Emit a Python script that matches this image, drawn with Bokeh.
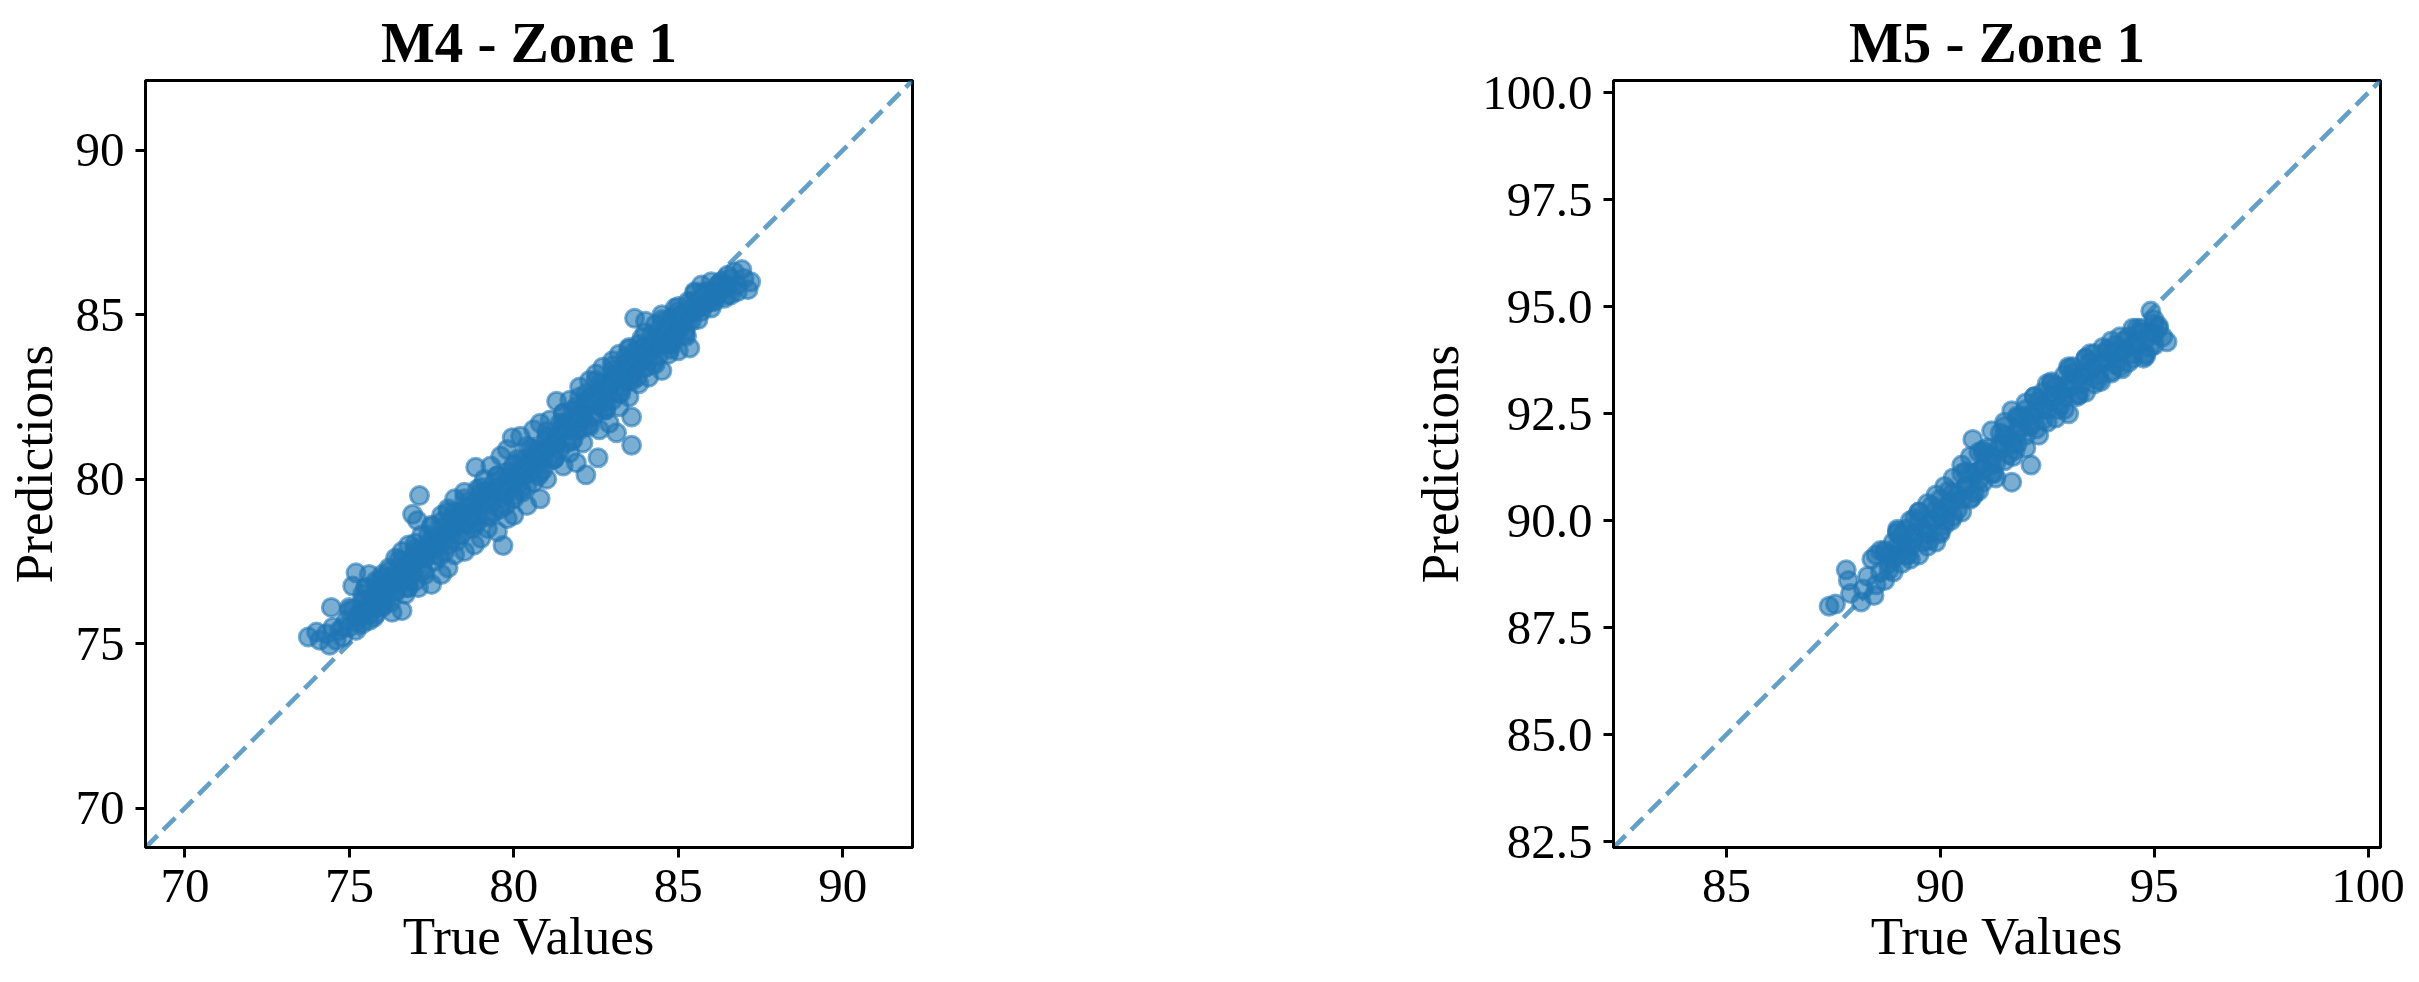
from bokeh.plotting import figure
from bokeh.layouts import row
from bokeh.models import Range1d, FixedTicker, PrintfTickFormatter
from bokeh.embed import file_html
from bokeh.resources import INLINE

FONT = "Liberation Serif"
BLUE = "#1f77b4"

# ---------------- M4 - Zone 1 ----------------
m4_title = "M4 - Zone 1"
m4_limits = [68.8, 92.12]
m4_xticks = [70, 75, 80, 85, 90]
m4_yticks = [70, 75, 80, 85, 90]
m4_true = [
    73.75, 74.0, 74.1, 74.3, 74.4, 74.5, 74.45, 74.6, 74.7,
    74.8, 74.9, 75.0, 75.0, 75.1, 75.2, 75.2, 75.3, 75.4, 75.4,
    75.5, 75.5, 75.6, 75.6, 75.7, 75.8, 75.8, 75.9, 76.0, 76.0, 76.0,
    76.1, 76.2, 76.2, 76.3, 76.4, 76.4, 76.5, 76.6, 76.6, 76.7, 76.7, 76.8, 76.8, 76.9, 76.92, 77.0, 77.0, 77.07, 77.13,
    77.1, 77.2, 77.2, 77.3, 77.4, 77.5, 77.5, 77.6, 77.7, 77.8, 77.8, 77.9, 78.0, 78.0, 78.0,
    78.1, 78.2, 78.2, 78.3, 78.4, 78.5, 78.5, 78.6, 78.7, 78.84, 78.8, 78.9, 78.9, 79.0, 79.0,
    79.1, 79.2, 79.2, 79.3, 79.4, 79.5, 79.5, 79.6, 79.67, 79.7, 79.8, 79.8, 79.9, 79.95, 80.0, 80.0,
    80.1, 80.2, 80.2, 80.3, 80.4, 80.4, 80.5, 80.6, 80.6, 80.7, 80.8, 80.8, 80.9, 81.0, 81.0,
    81.1, 81.2, 81.3, 81.3, 81.4, 81.5, 81.5, 81.6, 81.7, 81.7, 81.8, 81.9, 81.9, 82.0, 82.0,
    82.1, 82.19, 82.2, 82.3, 82.3, 82.4, 82.5, 82.56, 82.6, 82.6, 82.7, 82.8, 82.9, 82.9, 83.0, 83.0,
    83.12, 83.1, 83.2, 83.2, 83.3, 83.4, 83.5, 83.5, 83.58, 83.58, 83.6, 83.67, 83.7, 83.8, 83.9, 84.0, 84.0,
    84.1, 84.2, 84.3, 84.3, 84.4, 84.5, 84.5, 84.6, 84.7, 84.8, 84.8, 84.9, 85.0, 85.0,
    85.1, 85.2, 85.3, 85.35, 85.4, 85.5, 85.5, 85.6, 85.7, 85.8, 85.9, 86.0, 86.0,
    86.2, 86.3, 86.4, 86.5, 86.6, 86.7, 86.8, 86.93, 87.0, 87.12, 87.2,
    74.8, 75.3, 75.7, 76.1, 76.5, 76.9, 77.3, 77.7, 78.1, 78.5, 78.9, 79.3, 79.7, 80.1, 80.5,
    80.9, 81.3, 81.7, 82.1, 82.5, 82.9, 83.3, 83.7, 84.1, 84.5, 84.9, 85.3, 85.7, 86.1, 86.5,
    75.9, 76.3, 76.7, 77.1, 77.5, 77.9, 78.3, 78.7, 79.1, 79.5, 79.9, 80.3,
    80.7, 81.1, 81.5, 81.9, 82.3, 82.7, 83.1, 83.5, 83.9, 84.3, 84.7, 85.1,
    75.0, 75.4, 75.8, 76.2, 76.6, 77.0, 77.4, 77.8, 78.2, 78.6, 79.0, 79.4, 79.8, 80.2, 80.6,
    81.0, 81.4, 81.8, 82.2, 82.6, 83.0, 83.4, 83.8, 84.2, 84.6, 85.0, 85.4, 85.8, 86.2, 86.6,
    75.2, 75.6, 76.0, 76.4, 76.8, 77.2, 77.6, 78.0, 78.4, 78.8, 79.2, 79.6, 80.0, 80.4, 80.8,
    81.2, 81.6, 82.0, 82.4, 82.8, 83.2, 83.6, 84.0, 84.4, 84.8, 85.2, 85.6, 86.0, 86.4, 86.8,
    75.6, 76.0, 76.4, 76.8, 77.2, 77.6, 78.0, 78.4, 78.8, 79.2, 79.6, 80.0, 80.4, 80.8,
    81.2, 81.6, 82.0, 82.4, 82.8, 83.2, 83.6, 84.0, 84.4, 84.8, 85.2, 85.6, 86.0,
    75.1, 75.5, 75.9, 76.3, 76.7, 77.1, 77.5, 77.9, 78.3, 78.7, 79.1, 79.5, 79.9, 80.3, 80.7,
    81.1, 81.5, 81.9, 82.3, 82.7, 83.1, 83.5, 83.9, 84.3, 84.7, 85.1, 85.5, 85.9, 86.3,
    75.3, 75.7, 76.1, 76.5, 76.9, 77.3, 77.7, 78.1, 78.5, 78.9, 79.3, 79.7, 80.1, 80.5, 80.9,
    81.3, 81.7, 82.1, 82.5, 82.9, 83.3, 83.7, 84.1, 84.5, 84.9, 85.3, 85.7, 86.1, 86.5,
    75.5, 76.0, 76.5, 77.0, 77.5, 78.0, 78.5, 79.0, 79.5, 80.0, 80.5,
    81.0, 81.5, 82.0, 82.5, 83.0, 83.5, 84.0, 84.5, 85.0, 85.5,
    75.75, 76.25, 76.75, 77.25, 77.75, 78.25, 78.75, 79.25, 79.75, 80.25,
    80.75, 81.25, 81.75, 82.25, 82.75, 83.25, 83.75, 84.25, 84.75, 85.25,
]
m4_pred = [
    75.2, 75.35, 75.1, 75.3, 74.95, 75.5, 76.1, 75.1, 75.4,
    75.2, 75.7, 75.5, 76.0, 76.75, 75.4, 77.15, 75.9, 76.3, 75.6,
    76.0, 76.7, 77.1, 75.7, 76.4, 76.9, 75.9, 76.5, 77.0, 76.1, 76.6,
    76.3, 77.3, 76.8, 75.95, 77.6, 76.6, 77.1, 76.0, 77.8, 76.5, 77.3, 78.0, 76.7, 77.5, 78.93, 76.9, 77.8, 78.74, 79.5,
    76.7, 77.6, 78.3, 77.1, 78.0, 76.8, 78.6, 77.5, 78.2, 77.1, 78.9, 77.8, 78.4, 77.3, 79.1,
    78.8, 77.7, 79.4, 78.3, 79.0, 77.8, 79.6, 78.6, 79.2, 80.36, 78.0, 79.7, 78.7, 79.3, 78.2,
    80.0, 78.5, 79.6, 80.4, 79.0, 80.1, 78.4, 80.7, 77.98, 79.4, 80.9, 78.8, 80.2, 81.26, 79.5, 78.9,
    80.6, 81.3, 79.7, 80.1, 81.0, 79.2, 80.5, 81.5, 79.9, 80.9, 79.4, 81.7, 80.3, 81.2, 80.0,
    81.8, 80.6, 82.37, 81.3, 80.9, 82.0, 80.4, 81.5, 82.4, 80.8, 81.2, 82.2, 80.5, 81.7, 82.8,
    81.1, 80.13, 82.4, 83.0, 81.6, 82.0, 83.2, 80.65, 81.5, 82.7, 83.4, 82.1, 82.9, 81.7, 83.6, 82.4,
    81.41, 83.1, 83.8, 82.2, 82.8, 83.5, 84.0, 82.5, 81.03, 81.89, 83.2, 84.89, 83.9, 82.9, 84.3, 83.4, 84.8,
    83.1, 84.0, 84.7, 83.5, 84.3, 85.0, 83.3, 84.6, 83.8, 84.9, 84.2, 85.2, 84.5, 83.9,
    85.0, 84.4, 85.4, 83.99, 84.8, 85.7, 85.1, 85.4, 85.9, 85.3, 85.7, 86.0, 85.4,
    85.6, 86.0, 85.8, 86.2, 85.6, 86.3, 85.9, 86.37, 86.1, 85.76, 86.0,
    75.5, 75.9, 76.2, 76.6, 76.9, 77.3, 77.7, 78.1, 78.5, 78.9, 79.2, 79.5, 79.8, 80.1, 80.4,
    80.8, 81.3, 81.7, 82.0, 82.4, 82.8, 83.2, 83.6, 83.9, 84.2, 84.6, 85.0, 85.3, 85.7, 85.9,
    76.2, 76.9, 77.0, 77.6, 77.9, 78.3, 78.8, 78.8, 79.6, 79.6, 80.1, 80.6,
    80.5, 81.0, 81.7, 81.5, 82.3, 82.3, 83.2, 83.0, 83.6, 84.0, 84.1, 84.7,
    76.1, 76.5, 76.8, 77.2, 77.5, 77.9, 78.3, 78.7, 79.0, 79.3, 79.6, 79.9, 80.2, 80.5, 80.9,
    81.3, 81.7, 82.1, 82.6, 82.9, 83.3, 83.7, 84.1, 84.4, 84.8, 85.1, 85.4, 85.7, 85.9, 86.1,
    75.65, 75.9, 76.15, 76.55, 76.9, 77.3, 77.7, 78.0, 78.3, 78.6, 78.9, 79.1, 79.4, 79.8, 80.2,
    80.6, 81.1, 81.5, 81.9, 82.2, 82.6, 83.0, 83.4, 83.75, 84.1, 84.5, 84.85, 85.2, 85.5, 85.7,
    76.25, 76.6, 76.95, 77.35, 77.7, 78.1, 78.45, 78.8, 79.05, 79.35, 79.6, 79.9, 80.3, 80.7,
    81.1, 81.55, 81.95, 82.35, 82.7, 83.1, 83.5, 83.9, 84.2, 84.55, 84.9, 85.2, 85.5,
    76.05, 76.35, 76.7, 77.05, 77.4, 77.8, 78.2, 78.55, 78.85, 79.2, 79.45, 79.75, 80.05, 80.4, 80.8,
    81.2, 81.65, 82.05, 82.45, 82.8, 83.2, 83.6, 84.0, 84.3, 84.7, 85.0, 85.3, 85.65, 85.9,
    75.8, 76.1, 76.45, 76.8, 77.2, 77.6, 78.0, 78.3, 78.65, 78.95, 79.25, 79.5, 79.8, 80.2, 80.6,
    81.1, 81.5, 81.85, 82.25, 82.6, 83.0, 83.4, 83.75, 84.1, 84.45, 84.8, 85.1, 85.4, 85.6,
    76.7, 77.1, 77.55, 78.05, 78.55, 79.0, 79.4, 79.75, 80.1, 80.45, 80.95,
    81.45, 82.0, 82.5, 83.0, 83.45, 83.95, 84.45, 84.85, 85.25, 85.65,
    75.8, 76.25, 76.7, 77.2, 77.65, 78.1, 78.5, 78.85, 79.2, 79.6,
    80.1, 80.65, 81.15, 81.65, 82.1, 82.6, 83.1, 83.55, 83.95, 84.35,
]

# ---------------- M5 - Zone 1 ----------------
m5_title = "M5 - Zone 1"
m5_limits = [82.36, 100.29]
m5_xticks = [85, 90, 95, 100]
m5_yticks = [82.5, 85.0, 87.5, 90.0, 92.5, 95.0, 97.5, 100.0]
m5_true = [
    87.4, 87.55, 87.8, 87.85, 87.9, 88.15, 88.2, 88.45, 88.3, 88.5,
    88.4, 88.5, 88.6, 88.7, 88.7, 88.8, 88.9, 88.9, 89.0, 89.0,
    89.1, 89.2, 89.2, 89.3, 89.3, 89.4, 89.5, 89.5, 89.6, 89.7, 89.7, 89.8, 89.9, 89.9, 90.0, 90.0,
    90.1, 90.1, 90.2, 90.3, 90.3, 90.4, 90.5, 90.5, 90.6, 90.7, 90.76, 90.7, 90.8, 90.9, 90.9, 91.0, 91.0,
    91.1, 91.2, 91.2, 91.3, 91.4, 91.5, 91.5, 91.6, 91.67, 91.67, 91.7, 91.8, 91.8, 91.9, 92.0, 92.0,
    92.12, 92.1, 92.2, 92.3, 92.3, 92.4, 92.5, 92.6, 92.6, 92.7, 92.8, 92.9, 92.9, 93.0, 93.0,
    93.1, 93.2, 93.3, 93.4, 93.4, 93.5, 93.6, 93.7, 93.8, 93.9, 94.0, 94.0,
    94.1, 94.2, 94.3, 94.4, 94.5, 94.6, 94.7, 94.8, 94.9, 94.92, 95.0, 95.0, 95.1, 95.2, 95.3,
    88.8, 89.1, 89.4, 89.7, 90.0, 90.3, 90.6, 90.9, 91.2, 91.5, 91.8,
    92.1, 92.4, 92.7, 93.0, 93.3, 93.6, 93.9, 94.2, 94.5, 94.8,
    88.6, 89.0, 89.4, 89.8, 90.2, 90.6, 91.0, 91.4, 91.8, 92.2, 92.6, 93.0, 93.4, 93.8, 94.2, 94.6, 95.0,
    88.8, 89.2, 89.6, 90.0, 90.4, 90.8, 91.2, 91.6, 92.0, 92.4, 92.8, 93.2, 93.6, 94.0, 94.4, 94.8,
    89.0, 89.4, 89.8, 90.2, 90.6, 91.0, 91.4, 91.8, 92.2, 92.6, 93.0, 93.4, 93.8, 94.2, 94.6, 95.0,
    88.7, 89.1, 89.5, 89.9, 90.3, 90.7, 91.1, 91.5, 91.9, 92.3, 92.7, 93.1, 93.5, 93.9, 94.3, 94.7, 95.1,
    88.9, 89.3, 89.7, 90.1, 90.5, 90.9, 91.3, 91.7, 92.1, 92.5, 92.9, 93.3, 93.7, 94.1, 94.5, 94.9,
    89.0, 89.5, 90.0, 90.5, 91.0, 91.5, 92.0, 92.5, 93.0, 93.5, 94.0, 94.5,
    89.25, 89.75, 90.25, 90.75, 91.25, 91.75, 92.25, 92.75, 93.25, 93.75, 94.25, 94.75,
]
m5_pred = [
    88.0, 88.05, 88.85, 88.6, 88.3, 88.1, 88.4, 88.25, 88.7, 88.5,
    89.1, 89.2, 88.8, 89.3, 88.6, 89.0, 89.5, 88.8, 89.2, 89.7,
    89.0, 89.8, 89.4, 90.0, 89.1, 89.6, 90.2, 89.2, 89.8, 90.4, 89.4, 90.0, 90.6, 89.5, 90.2, 89.7,
    90.8, 89.9, 90.4, 91.0, 90.1, 90.6, 91.3, 90.2, 90.8, 91.5, 91.9, 90.5, 91.1, 90.7, 91.6, 91.2, 90.9,
    91.7, 91.3, 92.1, 91.0, 91.8, 92.3, 91.4, 91.9, 92.57, 90.9, 91.5, 92.4, 91.8, 92.2, 91.7, 92.6,
    91.3, 92.2, 92.9, 92.0, 92.6, 93.0, 92.3, 92.8, 93.2, 92.4, 93.0, 93.4, 92.6, 93.1, 92.5,
    93.6, 92.9, 93.4, 93.8, 93.0, 93.5, 93.9, 93.3, 93.7, 94.0, 93.5, 93.9,
    94.1, 93.6, 94.0, 94.3, 93.8, 94.2, 94.5, 93.9, 94.4, 94.9, 94.7, 94.1, 94.5, 94.3, 94.18,
    89.2, 89.45, 89.7, 89.9, 90.1, 90.45, 90.8, 91.15, 91.5, 91.8, 92.1,
    92.45, 92.7, 92.95, 93.2, 93.4, 93.6, 93.75, 93.95, 94.1, 94.25,
    89.3, 89.75, 90.05, 90.35, 90.7, 91.15, 91.6, 92.05, 92.45, 92.9, 93.25, 93.55, 93.8, 94.05, 94.3, 94.5, 94.6,
    88.85, 89.2, 89.5, 89.75, 90.25, 90.65, 91.1, 91.55, 92.0, 92.35, 92.7, 92.95, 93.2, 93.45, 93.7, 93.85,
    89.4, 89.7, 90.0, 90.35, 90.8, 91.25, 91.7, 92.1, 92.55, 92.9, 93.2, 93.45, 93.7, 93.95, 94.15, 94.35,
    89.25, 89.65, 90.0, 90.25, 90.65, 91.1, 91.55, 92.0, 92.45, 92.8, 93.15, 93.45, 93.7, 93.95, 94.2, 94.4, 94.55,
    89.1, 89.4, 89.7, 90.0, 90.5, 90.95, 91.35, 91.8, 92.25, 92.6, 92.9, 93.2, 93.4, 93.65, 93.9, 94.05,
    89.8, 90.2, 90.5, 91.1, 91.65, 92.2, 92.75, 93.2, 93.6, 93.9, 94.2, 94.5,
    89.2, 89.55, 90.0, 90.55, 91.1, 91.65, 92.15, 92.6, 92.95, 93.25, 93.55, 93.8,
]

x_label = "True Values"
y_label = "Predictions"


def make_fig(title, xs, ys, limits, xticks, yticks, border_left, border_right, yfmt=None):
    p = figure(
        frame_width=767, frame_height=767,
        x_range=Range1d(limits[0], limits[1]), y_range=Range1d(limits[0], limits[1]),
        output_backend="svg", toolbar_location=None, title=title,
        min_border_left=border_left, min_border_right=border_right,
        min_border_top=80, min_border_bottom=112,
        background_fill_color="white", border_fill_color="white",
    )
    p.title.text_font = FONT
    p.title.text_font_size = "57px"
    p.title.text_font_style = "bold"
    p.title.text_color = "black"
    p.title.align = "center"
    p.title.standoff = 14
    p.grid.visible = False
    p.outline_line_color = "black"
    p.outline_line_width = 3
    p.outline_line_alpha = 1
    for ax in (p.xaxis[0], p.yaxis[0]):
        ax.axis_line_width = 3
        ax.axis_line_color = "black"
        ax.major_tick_line_width = 3
        ax.major_tick_line_color = "black"
        ax.major_tick_out = 10
        ax.major_tick_in = 0
        ax.minor_tick_line_color = None
        ax.major_label_text_font = FONT
        ax.major_label_text_font_size = "49px"
        ax.major_label_text_color = "black"
        ax.axis_label_text_font = FONT
        ax.axis_label_text_font_size = "53px"
        ax.axis_label_text_font_style = "normal"
        ax.axis_label_text_color = "black"
    p.xaxis.ticker = FixedTicker(ticks=xticks)
    p.yaxis.ticker = FixedTicker(ticks=yticks)
    p.xaxis.axis_label = x_label
    p.yaxis.axis_label = y_label
    p.xaxis.major_label_standoff = 12
    p.yaxis.major_label_standoff = 11
    p.xaxis.axis_label_standoff = 2
    p.yaxis.axis_label_standoff = 10
    if yfmt:
        p.yaxis.formatter = PrintfTickFormatter(format=yfmt)

    p.scatter(xs, ys, size=18, fill_color=BLUE, fill_alpha=0.6,
              line_color=BLUE, line_alpha=0.6, line_width=3)
    p.line([limits[0], limits[1]], [limits[0], limits[1]], line_color=BLUE,
           line_alpha=0.7, line_width=4.7, line_dash="17 8")
    return p


p1 = make_fig(m4_title, m4_true, m4_pred, m4_limits, m4_xticks, m4_yticks, 145, 30)
p2 = make_fig(m5_title, m5_true, m5_pred, m5_limits, m5_xticks, m5_yticks, 671, 31, "%.1f")

layout = row(p1, p2)
open("out.html", "w").write(file_html(layout, INLINE))
